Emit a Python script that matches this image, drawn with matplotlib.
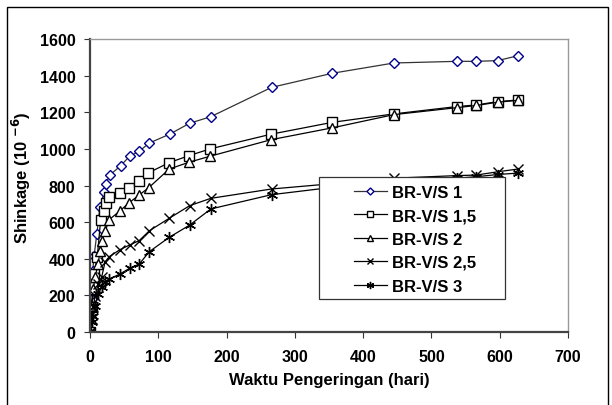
import matplotlib
matplotlib.use("Agg")
import matplotlib.pyplot as plt
from matplotlib.patches import Rectangle

plt.rcParams['font.family'] = ['Liberation Sans', 'DejaVu Sans']

x1 = [0, 2.4, 4, 6, 10, 14.6, 20.5, 23, 29, 45, 58, 72, 87, 117, 146, 177, 266, 355, 445, 537, 566, 597, 627]
y1 = [0, 180, 335, 417, 535, 681, 763, 808, 857, 908, 960, 987, 1032, 1081, 1140, 1176, 1336, 1413, 1469, 1478, 1478, 1482, 1509]

x15 = [0, 2.4, 4, 6, 10.7, 15.6, 20.5, 23, 28, 44, 57, 72, 85, 116, 145, 176, 265, 355, 445, 537, 566, 597, 627]
y15 = [0, 138, 244, 317, 412, 613, 662, 705, 735, 759, 786, 825, 868, 925, 963, 1000, 1080, 1145, 1191, 1231, 1240, 1258, 1267]

x2 = [0, 2.4, 4.9, 7.3, 12, 14.6, 17, 22.5, 28, 44, 57, 72, 86, 116, 145, 176, 265, 355, 445, 537, 566, 597, 627]
y2 = [0, 144, 235, 299, 371, 444, 499, 553, 613, 662, 705, 748, 788, 890, 927, 960, 1050, 1115, 1187, 1225, 1237, 1255, 1265]

x25 = [0, 2.4, 5, 7.3, 12, 17, 22, 28, 44, 58, 72, 87, 116, 146, 177, 266, 355, 445, 537, 566, 597, 627]
y25 = [0, 71, 135, 198, 262, 299, 381, 411, 450, 475, 499, 553, 621, 690, 730, 781, 810, 840, 854, 857, 875, 890]

x3 = [0, 2.4, 5, 7.3, 12, 17, 22, 28, 44, 58, 72, 87, 116, 146, 177, 266, 355, 445, 537, 566, 597, 627]
y3 = [0, 53, 89, 144, 208, 244, 271, 289, 317, 348, 371, 439, 517, 584, 672, 750, 790, 815, 840, 848, 860, 868]

labels = ["BR-V/S 1", "BR-V/S 1,5", "BR-V/S 2", "BR-V/S 2,5", "BR-V/S 3"]
xticks = [0, 100, 200, 300, 400, 500, 600, 700]
yticks = [0, 200, 400, 600, 800, 1000, 1200, 1400, 1600]

W, H = 612, 406
fig = plt.figure(figsize=(W / 100, H / 100), dpi=100)
L, R, T, B = 90, 568, 40, 333
ax = fig.add_axes([L / W, 1 - B / H, (R - L) / W, (B - T) / H])

lc = '#333333'
ax.plot(x1, y1, color=lc, lw=0.9, marker='D', ms=5.5, mfc='white', mec='#00008B', mew=1.0, label=labels[0])
ax.plot(x15, y15, color='black', lw=0.9, marker='s', ms=6.5, mfc='white', mec='black', mew=1.0, label=labels[1])
ax.plot(x2, y2, color='black', lw=0.9, marker='^', ms=7, mfc='white', mec='black', mew=1.0, label=labels[2])
ax.plot(x25, y25, color='black', lw=0.9, marker='x', ms=7, mec='black', mew=1.0, label=labels[3])
ax.plot(x3, y3, color='black', lw=0.9, marker=(6, 2, 0), ms=8, mec='black', mew=1.0, label=labels[4])

ax.set_xlim(0, 700)
ax.set_ylim(0, 1600)
ax.set_xticks(xticks)
ax.set_yticks(yticks)
ax.tick_params(direction='out', length=4, width=0.8, colors='#333333', labelcolor='black',
               labelsize=11.5)
ax.tick_params(axis='x', pad=8)
ax.tick_params(axis='y', pad=6.5)
for t in ax.get_xticklabels() + ax.get_yticklabels():
    t.set_fontweight('bold')
for s in ['left', 'bottom']:
    ax.spines[s].set_color('#444444')
    ax.spines[s].set_linewidth(1.6)
for s in ['top', 'right']:
    ax.spines[s].set_color('#999999')
    ax.spines[s].set_linewidth(1.0)

ax.set_xlabel("Waktu Pengeringan (hari)", fontsize=12, fontweight='bold', labelpad=6)
ax.set_ylabel(r"Shinkage (10 $^{\mathbf{-6}}$)", fontsize=12, fontweight='bold', labelpad=6)
ax.yaxis.set_label_coords((33 - L) / (R - L), 0.53)

# legend frame drawn separately (pixel box 319..505 x 178..300)
lx0, lx1, ly0, ly1 = 319, 505, 178, 300
ax.add_patch(Rectangle(((lx0 - L) / (R - L), (B - ly1) / (B - T)), (lx1 - lx0) / (R - L),
                       (ly1 - ly0) / (B - T), transform=ax.transAxes, facecolor='white',
                       edgecolor='#333333', linewidth=0.9, zorder=5))
leg = ax.legend(loc='upper left', bbox_to_anchor=((346 - L) / (R - L), (B - ly0) / (B - T)),
                frameon=False, prop={'weight': 'bold', 'size': 12}, handlelength=2.0,
                borderpad=0.45, borderaxespad=0, labelspacing=0.51, handletextpad=0.3,
                markerscale=0.65)
leg.set_zorder(6)

fig.patches.append(Rectangle((7 / W, -0.05), 601 / W, (H - 8) / H + 0.05, transform=fig.transFigure,
                             fill=False, edgecolor='black', linewidth=1.0))

fig.savefig("out.png", dpi=100)
